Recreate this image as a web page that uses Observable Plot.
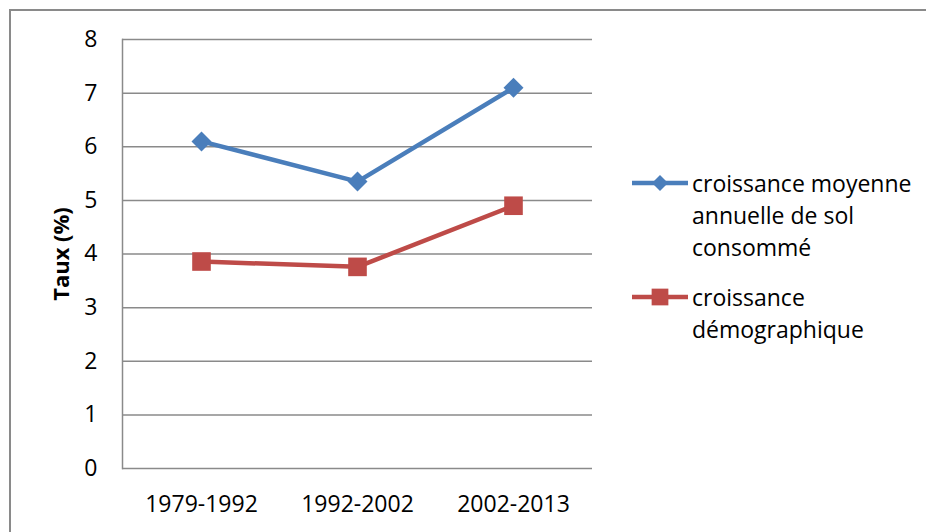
<!DOCTYPE html>
<html>
<head>
<meta charset="utf-8">
<script src="https://cdn.jsdelivr.net/npm/d3@7"></script>
<script src="https://cdn.jsdelivr.net/npm/@observablehq/plot@0.6"></script>
<style>
  html, body { margin: 0; background: #fff; overflow: hidden; width: 926px; height: 532px; }
  #chart { position: relative; width: 926px; height: 532px; overflow: hidden; font-family: "Open Sans", sans-serif; }
  .edge { position: absolute; background: #8a8a8a; }
  #edge-top { left: 9px; top: 9px; width: 917px; height: 2px; }
  #edge-left { left: 9px; top: 9px; width: 2px; height: 523px; }
  #plot { position: absolute; left: 0; top: 0; }
  #legend { position: absolute; left: 632px; top: 167px; font-size: 23px; color: #000; }
  .item { display: flex; align-items: flex-start; margin-bottom: 18px; }
  .item svg { flex: none; margin-right: 4px; }
  .item .lbl { width: 228px; line-height: 32px; }
  g[aria-label="y-axis label"] text { font-weight: bold; font-size: 22px; }
</style>
</head>
<body>
<div id="chart">
  <div class="edge" id="edge-top"></div>
  <div class="edge" id="edge-left"></div>
  <div id="plot"></div>
  <div id="legend"></div>
</div>
<script>
// Periods on the horizontal axis
const periods = ["1979-1992", "1992-2002", "2002-2013"];
// Series names
const series = ["croissance moyenne annuelle de sol consommé", "croissance démographique"];
// Annual growth rates (%)
const solConsomme = [6.1, 5.35, 7.1];
const demographie = [3.86, 3.76, 4.9];
// Y axis ticks
const yTicks = [0, 1, 2, 3, 4, 5, 6, 7, 8];

const colors = ["#4a7ebb", "#be4b48"];
const symbols = ["diamond2", "square"];

const rows = periods.flatMap((p, i) => [
  { periode: p, serie: series[0], taux: solConsomme[i] },
  { periode: p, serie: series[1], taux: demographie[i] }
]);

const chart = Plot.plot({
  width: 926,
  height: 532,
  marginLeft: 122,
  marginRight: 334,
  marginTop: 39,
  marginBottom: 64,
  style: { fontFamily: "Open Sans, sans-serif", fontSize: "23px", color: "#000", background: "transparent", overflow: "hidden" },
  x: { type: "point", domain: periods, padding: 0.5, label: null },
  y: { domain: [0, 8], label: "Taux (%)", labelArrow: "none" },
  color: { domain: series, range: colors },
  symbol: { domain: series, range: symbols },
  marks: [
    Plot.gridY(yTicks, { stroke: "#8a8a8a", strokeOpacity: 1, strokeWidth: 1.5 }),
    Plot.frame({ anchor: "left", stroke: "#8a8a8a", strokeWidth: 1.5 }),
    Plot.axisY(yTicks, { tickSize: 0, tickPadding: 25, tickFormat: d => String(d), label: "Taux (%)", labelArrow: "none", labelAnchor: "center", labelOffset: 69, fill: "#000" }),
    Plot.axisX({ tickSize: 0, tickPadding: 27, label: null, fill: "#000" }),
    Plot.lineY(rows, { x: "periode", y: "taux", stroke: "serie", strokeWidth: 4.5 }),
    Plot.dot(rows.filter(d => d.serie === series[0]), { x: "periode", y: "taux", symbol: "serie", fill: "serie", r: 9 }),
    Plot.dot(rows.filter(d => d.serie === series[1]), { x: "periode", y: "taux", symbol: "serie", fill: "serie", r: 10.5 })
  ]
});
document.getElementById("plot").appendChild(chart);

// Legend: line with its marker, then the wrapped series name
const legend = d3.select("#legend");
series.forEach((name, i) => {
  const item = legend.append("div").attr("class", "item");
  const sw = item.append("svg").attr("width", 56).attr("height", 32);
  sw.append("line").attr("x1", 0).attr("x2", 56).attr("y1", 16).attr("y2", 16)
    .attr("stroke", colors[i]).attr("stroke-width", 4.5);
  const sym = i === 0 ? d3.symbolDiamond2 : d3.symbolSquare;
  const size = i === 0 ? 165 : 280;
  sw.append("path").attr("transform", "translate(28,16)")
    .attr("d", d3.symbol(sym, size)()).attr("fill", colors[i]);
  item.append("div").attr("class", "lbl").text(name);
});
</script>
</body>
</html>
